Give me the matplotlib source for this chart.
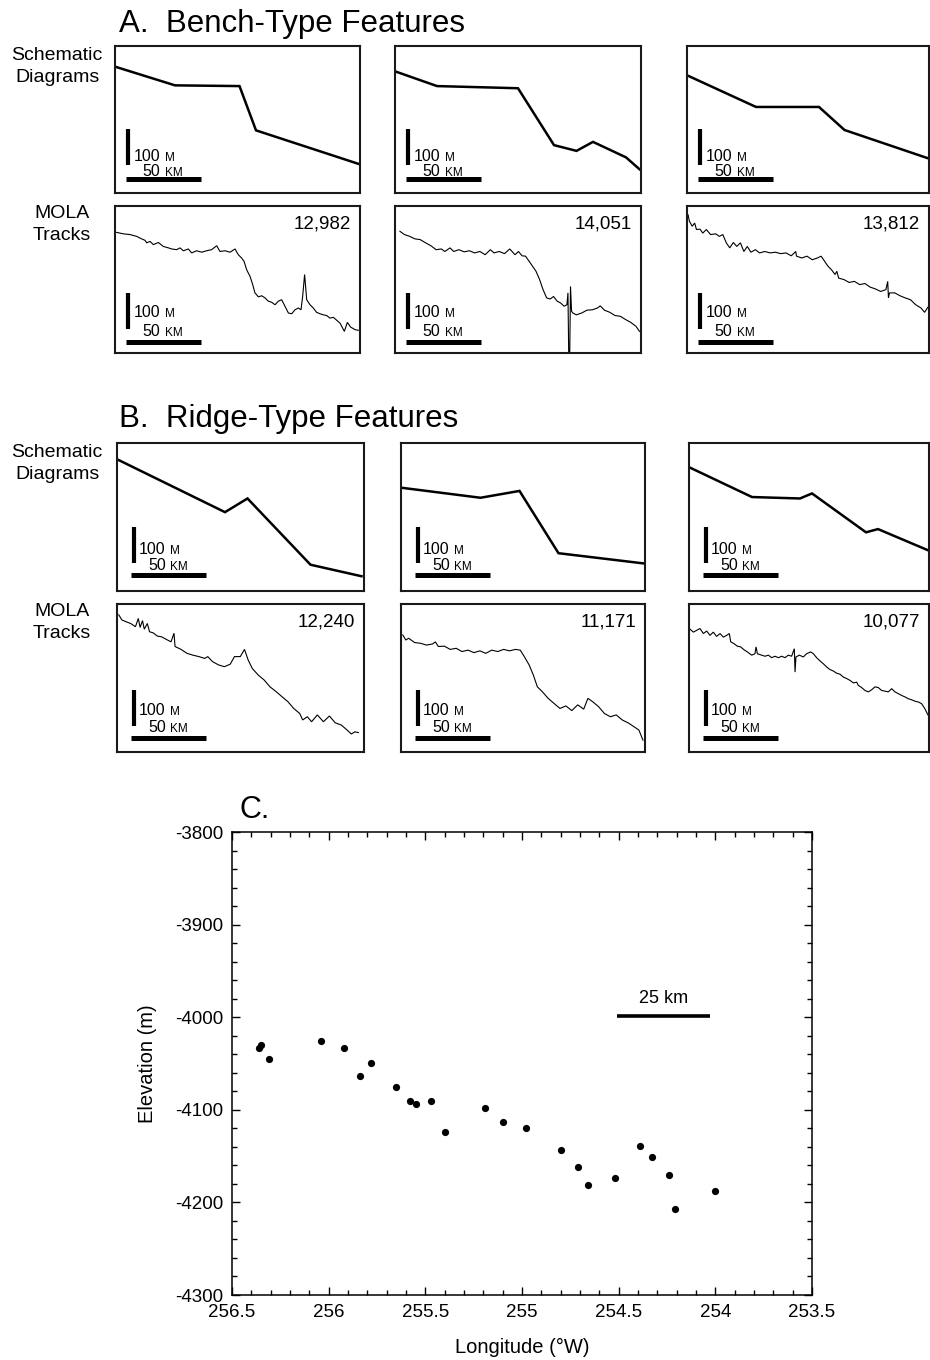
import numpy as np
import matplotlib.pyplot as plt
from matplotlib.ticker import MultipleLocator, FormatStrFormatter

plt.rcParams['font.family'] = ['Liberation Sans', 'DejaVu Sans']
plt.rcParams['axes.unicode_minus'] = False

# ---------------- data ----------------
# schematic profiles, distance (km) / relative elevation (m)
bench_schem_km = [[0, 40, 83, 94, 163],
                  [0, 28, 82, 106, 121, 132, 154, 163],
                  [0, 46, 88, 105, 161]]
bench_schem_m = [[351, 299, 297, 174, 80],
                 [338, 297, 291, 133, 117, 142, 99, 66],
                 [327, 239, 239, 175, 96]]
ridge_schem_km = [[0, 72, 87, 129, 163],
                  [0, 53, 79, 105, 163],
                  [0, 42, 74, 82, 118, 126, 160]]
ridge_schem_m = [[366, 219, 257, 73, 41],
                 [287, 259, 278, 105, 76],
                 [344, 261, 257, 271, 163, 172, 112]]

bench_tracks = ['12,982', '14,051', '13,812']
ridge_tracks = ['12,240', '11,171', '10,077']

# MOLA tracks
t12982_km = [1.1, 5.6, 10, 14.4, 17.8, 20, 21.1, 23.3, 25.6, 28.9, 32.2, 35.6, 37.8, 41.1, 43.3,
             45.6, 48.9, 51.1, 54.4, 57.8, 61.1, 64.4, 67.8, 70, 73.3, 76.7, 80, 82.2, 84.4, 86,
             87.8, 90, 91.8, 93.3, 95.6, 97.8, 100, 102.2, 104.4, 106.7, 108.9, 111.1, 113.3,
             115.6, 117.8, 120, 122.2, 124, 125.1, 126.4, 127.8, 130, 132.2, 134.4, 136.7, 138.9,
             141.1, 143.3, 145.6, 147.8, 150, 152.9, 154.9, 157.1, 160, 162.2]
t12982_m = [335, 331, 329, 324, 317, 313, 306, 310, 301, 307, 296, 292, 289, 287, 292,
            284, 289, 278, 284, 280, 284, 287, 298, 282, 284, 280, 289, 273, 264, 255,
            231, 213, 190, 167, 156, 159, 153, 144, 141, 134, 144, 148, 130,
            111, 109, 120, 125, 120, 157, 218, 148, 134, 125, 113, 109, 106,
            104, 97, 99, 91, 83, 60, 85, 72, 65, 63]

t14051_km = [3.3, 6.3, 9.8, 13.3, 16.8, 20.4, 23.9, 27.4, 30.9, 33.2, 36.7, 39.1, 42.6, 46.1, 49.6,
             53.1, 56.6, 60.1, 63.6, 66, 69.5, 73, 76.5, 80, 82.3, 84.7, 87, 89.4, 91.7, 94, 96.4,
             98.7, 101.1, 103.4, 105.7, 108.1, 110.4, 112.7, 114.6, 115.3, 115.8, 116.5, 117,
             117.7, 118.6, 120.9, 124.4, 128, 131.5, 135, 136.8, 139.6, 143.2, 146.7, 150.2,
             153.7, 157.2, 160.7, 163]
t14051_m = [338, 329, 324, 317, 315, 306, 298, 287, 289, 282, 292, 282, 287, 281, 284,
            278, 282, 273, 287, 278, 282, 276, 289, 273, 282, 270, 269, 255, 241, 227, 204,
            176, 153, 150, 157, 144, 139, 130, 134, 167, 0, 0, 185,
            116, 111, 106, 111, 119, 120, 125, 131, 119, 113, 104, 102,
            93, 85, 74, 60]

t13812_km = [0.7, 1.6, 3.5, 5.1, 6.3, 8.7, 10.5, 12.9, 15.7, 19.2, 21.5, 23.9, 26.2, 28.5, 30.9,
             33.2, 35.6, 37.9, 40.2, 42.6, 45.6, 48.4, 51.9, 55.4, 58.9, 62.5, 66, 69.5, 72.5, 73,
             76.5, 80, 83.5, 87, 89.4, 91.7, 94, 96.4, 98.7, 99.9, 101.1, 104.6, 108.1, 111.6,
             115.1, 118.6, 122.1, 125.6, 129.1, 132.6, 133.8, 134.3, 135, 138.5, 142, 145.5, 149,
             152.5, 156, 158.4, 160.7, 162.6]
t13812_m = [384, 366, 352, 361, 343, 344, 333, 343, 329, 331, 324, 329, 306, 292, 307,
            296, 306, 282, 296, 280, 287, 278, 282, 278, 280, 276, 278, 270, 282, 269,
            264, 269, 259, 264, 269, 255, 241, 231, 218, 227, 208, 204, 196, 199,
            190, 193, 183, 178, 171, 176, 199, 153, 167, 167, 159, 153, 148,
            134, 125, 113, 128, 116]

t12240_km = [1.2, 3.2, 5.9, 9.1, 12.3, 14.2, 15.4, 17, 18.2, 20.2, 21.7, 24.1, 26.9, 29.7, 32.8,
             36, 38, 38.7, 42.7, 46.7, 50.6, 54.6, 58.5, 60.5, 63.7, 67.6, 71.6, 75.5, 78.3, 82.2,
             85, 87.4, 90.2, 94.1, 98.1, 102, 106, 109.9, 113.9, 117.8, 121.8, 123.8, 126.9,
             129.7, 133.6, 137.6, 141.6, 145.5, 149.5, 153.4, 156.2, 158.6, 160.9]
t12240_m = [381, 367, 362, 357, 348, 371, 346, 365, 341, 357, 334, 331, 322, 320, 313,
            306, 330, 293, 285, 274, 269, 265, 260, 265, 251, 242, 237, 244, 265, 265,
            285, 256, 232, 214, 200, 181, 168, 154, 140, 121, 107, 89, 98,
            84, 103, 84, 100, 81, 75, 61, 50, 56, 54]

t11171_km = [1.2, 3.2, 5.1, 9.1, 13, 17, 21, 22.9, 24.9, 28.9, 32.8, 36.8, 40.7, 44.7, 48.6,
             52.6, 56.5, 60.5, 64.5, 68.4, 72.4, 76.3, 79.5, 82.2, 85.4, 88.2, 90.9, 94.1, 98.1,
             102, 106, 109.9, 113.9, 117.8, 121.8, 124.6, 127.7, 131.7, 135.6, 139.6, 143.5,
             147.5, 151.4, 155.4, 158.6, 161.3]
t11171_m = [325, 311, 316, 304, 302, 297, 300, 306, 293, 294, 285, 288, 279, 283, 276,
            281, 274, 283, 279, 285, 281, 285, 283, 265, 242, 214, 181, 168, 149,
            135, 121, 128, 115, 131, 119, 149, 140, 126, 107, 98, 103,
            89, 81, 70, 61, 33]

t10077_km = [0.2, 2.9, 5.1, 7.3, 9.6, 11.8, 14, 16.2, 18.4, 20.7, 22.9, 25.1, 26.9, 27.8, 30,
             32.2, 34.4, 36.7, 38.9, 41.8, 44, 44.7, 45.6, 48.4, 50.7, 52.9, 55.1, 57.3, 59.6,
             61.8, 64, 66.2, 68.4, 70.2, 70.7, 71.3, 73.6, 76.2, 78.4, 81.1, 82.9, 85.1, 87.3,
             89.6, 91.8, 94, 96.2, 98.4, 100.7, 102.9, 105.1, 107.3, 109.6, 111.8, 112.9, 115.1,
             117.3, 119.6, 121.8, 124, 126.2, 128.4, 130.7, 132.9, 135.1, 137.3, 139.6, 141.8,
             144, 146.2, 148.4, 150.7, 152.9, 155.1, 157.3, 158.9, 160.2]
t10077_m = [343, 333, 338, 343, 329, 336, 324, 333, 321, 329, 319, 324, 329, 306, 301,
            294, 292, 284, 278, 269, 273, 292, 273, 269, 266, 269, 262, 266, 262,
            266, 262, 269, 266, 287, 222, 264, 269, 264, 273, 278, 273, 262, 253,
            245, 236, 229, 225, 219, 216, 208, 204, 199, 192, 194, 185, 179,
            171, 167, 173, 181, 179, 171, 169, 167, 176, 167, 162, 157,
            153, 148, 145, 141, 139, 134, 120, 106, 97]

bench_mola_km = [t12982_km, t14051_km, t13812_km]
bench_mola_m = [t12982_m, t14051_m, t13812_m]
ridge_mola_km = [t12240_km, t11171_km, t10077_km]
ridge_mola_m = [t12240_m, t11171_m, t10077_m]

# panel C: elevation vs longitude
lon = [256.36, 256.35, 256.31, 256.04, 255.92, 255.84, 255.78, 255.65, 255.58, 255.55,
       255.47, 255.40, 255.19, 255.10, 254.98, 254.80, 254.71, 254.66, 254.52, 254.39,
       254.33, 254.24, 254.21, 254.00]
elev = [-4033, -4030, -4045, -4026, -4033, -4064, -4049, -4075, -4090, -4094,
        -4090, -4124, -4098, -4113, -4120, -4143, -4162, -4181, -4174, -4139,
        -4151, -4170, -4207, -4188]

# ---------------- layout ----------------
W, H = 930, 1360
fig = plt.figure(figsize=(W / 100, H / 100), dpi=100)


def box(x0, y0, x1, y1):
    return [x0 / W, 1 - y1 / H, (x1 - x0) / W, (y1 - y0) / H]


def ftext(x, y, s, **kw):
    fig.text(x / W, 1 - y / H, s, **kw)


KM_PX, M_PX = 1.5, 0.36   # pixels per km / per m in the profile boxes


def scale_bar(ax, dx, hbar, vbar, t100, t50):
    ax.plot([8.5 + dx, 8.5 + dx], [vbar, vbar + 100], color='k', lw=3, solid_capstyle='butt')
    ax.plot([7 + dx, 57 + dx], [hbar, hbar], color='k', lw=3.6, solid_capstyle='butt')
    ax.text(12.3 + dx, t100, '100', fontsize=11.5, va='baseline')
    ax.text(33 + dx, t100, 'M', fontsize=8.5, va='baseline')
    ax.text(18.5 + dx, t50, '50', fontsize=11.5, va='baseline')
    ax.text(33 + dx, t50, 'KM', fontsize=8.5, va='baseline')


def profile_panel(xr, yr, km, m, lw, label=None, bar=(0, 40, 77, 90, 46)):
    ax = fig.add_axes(box(xr[0], yr[0], xr[1], yr[1]))
    ax.plot(km, m, color='k', lw=lw, solid_joinstyle='miter')
    ax.set_xlim(0, (xr[1] - xr[0]) / KM_PX)
    ax.set_ylim(0, (yr[1] - yr[0]) / M_PX)
    ax.set_xticks([])
    ax.set_yticks([])
    for sp in ax.spines.values():
        sp.set_linewidth(1.5)
        sp.set_color('#1a1a1a')
    scale_bar(ax, *bar)
    if label:
        ax.text(0.963, 0.935, label, transform=ax.transAxes, ha='right', va='top', fontsize=13.5)
    return ax


a_cols = [(115, 360), (395, 641), (687, 929)]
b_cols = [(117, 364), (401, 645), (689, 929)]

for i in range(3):
    profile_panel(a_cols[i], (46, 193), bench_schem_km[i], bench_schem_m[i], 1.8,
                  bar=(0, 40, 77, 90, 46))
    profile_panel(a_cols[i], (206, 353), bench_mola_km[i], bench_mola_m[i], 0.8,
                  label=bench_tracks[i], bar=(0, 31, 68, 100, 46))
    profile_panel(b_cols[i], (443, 591), ridge_schem_km[i], ridge_schem_m[i], 1.8,
                  bar=(2.5, 44, 78, 104, 57))
    profile_panel(b_cols[i], (604, 752), ridge_mola_km[i], ridge_mola_m[i], 0.8,
                  label=ridge_tracks[i], bar=(2.5, 38, 72, 104, 56))

ftext(119, 32, 'A.  Bench-Type Features', fontsize=22.5, va='baseline')
ftext(119, 427, 'B.  Ridge-Type Features', fontsize=22.5, va='baseline')
for y in (47, 444):
    ftext(57, y, 'Schematic\nDiagrams', fontsize=14, ha='center', va='top', linespacing=1.4)
for y in (205, 603):
    ftext(62, y, 'MOLA\nTracks', fontsize=14, ha='center', va='top', linespacing=1.4)

# ---------------- panel C ----------------
ax = fig.add_axes(box(232, 832, 812, 1295))
ax.plot(lon, elev, 'o', color='k', ms=5.2, mew=0)
ax.set_xlim(256.5, 253.5)
ax.set_ylim(-4300, -3800)
ax.xaxis.set_major_locator(MultipleLocator(0.5))
ax.xaxis.set_minor_locator(MultipleLocator(0.1))
ax.yaxis.set_major_locator(MultipleLocator(100))
ax.yaxis.set_minor_locator(MultipleLocator(20))
ax.xaxis.set_major_formatter(FormatStrFormatter('%g'))
ax.tick_params(which='both', direction='in', top=True, right=True, width=1, labelsize=13.5, pad=6.5)
ax.tick_params(which='major', length=5.5)
ax.tick_params(which='minor', length=3.5)
for sp in ax.spines.values():
    sp.set_linewidth(1.1)
ax.set_xlabel('Longitude (°W)', fontsize=14.5, labelpad=12)
ax.set_ylabel('Elevation (m)', fontsize=14.5, labelpad=13)

# 25 km scale bar
ax.plot([254.51, 254.03], [-3999, -3999], color='k', lw=2.6, solid_capstyle='butt')
ax.text(254.27, -3985, '25 km', ha='center', va='baseline', fontsize=13)

ftext(239, 818, 'C.', fontsize=22, va='baseline')

fig.savefig('out.png', dpi=100)
